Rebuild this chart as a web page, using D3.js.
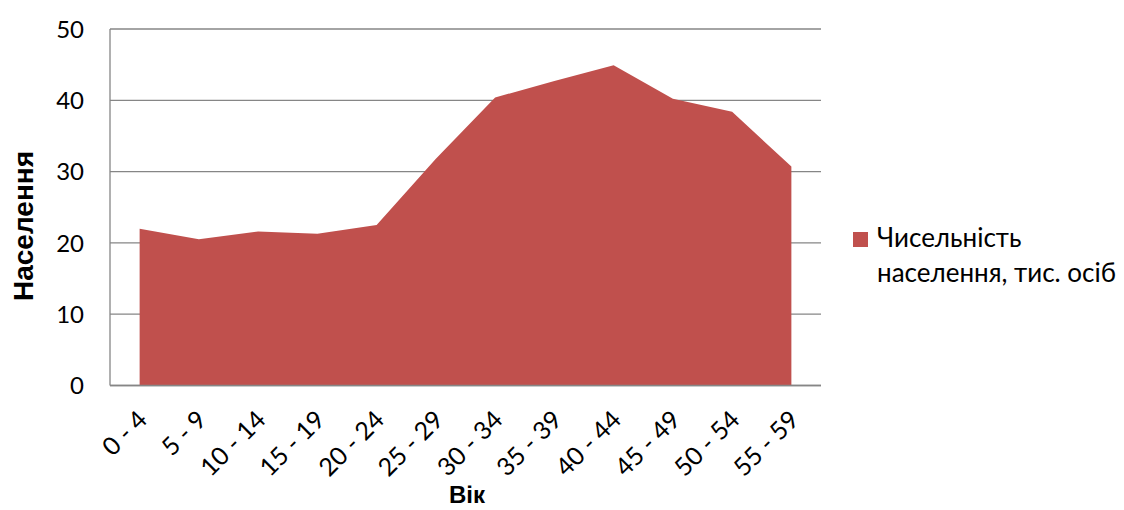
<!DOCTYPE html>
<html>
<head>
<meta charset="utf-8">
<script src="https://cdn.jsdelivr.net/npm/d3@7"></script>
<style>
  html, body { margin: 0; padding: 0; background: #fff; }
  svg { display: block; }
</style>
</head>
<body>
<svg id="chart" width="1124" height="510"></svg>
<script>
// Age groups and population (thousands of people)
const ageGroups = ["0 - 4", "5 - 9", "10 - 14", "15 - 19", "20 - 24", "25 - 29",
                   "30 - 34", "35 - 39", "40 - 44", "45 - 49", "50 - 54", "55 - 59"];
const population = [22.0, 20.5, 21.6, 21.3, 22.5, 31.8, 40.4, 42.7, 44.9, 40.2, 38.4, 30.7];
const yTicks = [0, 10, 20, 30, 40, 50];
const seriesName = ["Чисельність", "населення, тис. осіб"];
const xTitle = "Вік";
const yTitle = "Населення";

const svg = d3.select("#chart");
const plot = { left: 110, right: 821, top: 29, bottom: 385.5 };
const fill = "#C0504D";
const gridColor = "#868686";
const labelFont = "Lato, 'Open Sans', sans-serif";
const titleFont = "'Liberation Sans', Arial, sans-serif";

const x = d3.scaleBand().domain(ageGroups).range([plot.left, plot.right]);
const y = d3.scaleLinear().domain([0, 50]).range([plot.bottom, plot.top]);
const cx = d => x(d) + x.bandwidth() / 2;

// horizontal gridlines
svg.append("g")
  .selectAll("line")
  .data(yTicks)
  .join("line")
  .attr("x1", plot.left).attr("x2", plot.right)
  .attr("y1", d => y(d)).attr("y2", d => y(d))
  .attr("stroke", gridColor).attr("stroke-width", 1.3);

// left axis line
svg.append("line")
  .attr("x1", plot.left).attr("x2", plot.left)
  .attr("y1", y(50)).attr("y2", y(0))
  .attr("stroke", gridColor).attr("stroke-width", 1.3);

// area series
const area = d3.area()
  .x((d, i) => cx(ageGroups[i]))
  .y0(y(0))
  .y1(d => y(d));
svg.append("path")
  .datum(population)
  .attr("d", area)
  .attr("fill", fill);

// bottom axis line drawn over the area base
svg.append("line")
  .attr("x1", plot.left).attr("x2", plot.right)
  .attr("y1", y(0)).attr("y2", y(0))
  .attr("stroke", gridColor).attr("stroke-width", 1.3);

// y tick labels
svg.append("g")
  .selectAll("text")
  .data(yTicks)
  .join("text")
  .attr("x", 84)
  .attr("y", d => y(d))
  .attr("dy", "0.36em")
  .attr("text-anchor", "end")
  .attr("font-family", labelFont)
  .attr("font-size", 24)
  .attr("fill", "#000")
  .text(d => d);

// x tick labels, rotated
svg.append("g")
  .selectAll("text")
  .data(ageGroups)
  .join("text")
  .attr("transform", d => `translate(${cx(d) + 3},${415}) rotate(-45)`)
  .attr("text-anchor", "end")
  .attr("dy", "0.35em")
  .attr("font-family", labelFont)
  .attr("font-size", 25)
  .attr("fill", "#000")
  .text(d => d);

// axis titles
svg.append("text")
  .attr("x", 467)
  .attr("y", 503)
  .attr("text-anchor", "middle")
  .attr("font-family", titleFont)
  .attr("font-weight", "bold")
  .attr("font-size", 24)
  .text(xTitle);

svg.append("text")
  .attr("transform", `translate(33,${226}) rotate(-90)`)
  .attr("text-anchor", "middle")
  .attr("font-family", titleFont)
  .attr("font-weight", "bold")
  .attr("font-size", 28)
  .text(yTitle);

// legend
const legend = svg.append("g").attr("transform", "translate(853,232)");
legend.append("rect")
  .attr("width", 15).attr("height", 15)
  .attr("fill", fill);
legend.selectAll("text")
  .data(seriesName)
  .join("text")
  .attr("x", 24)
  .attr("y", (d, i) => 15 + i * 35)
  .attr("font-family", labelFont)
  .attr("font-size", 26)
  .attr("fill", "#000")
  .text(d => d);
</script>
</body>
</html>
